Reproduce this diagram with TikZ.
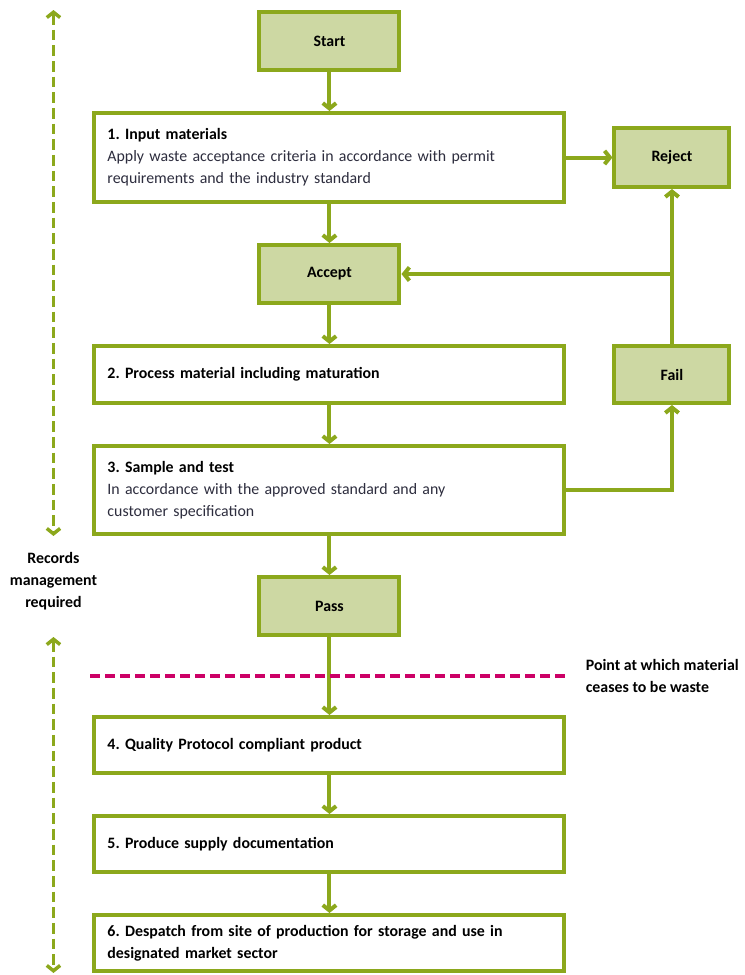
\documentclass[tikz,border=0pt]{standalone}
\usepackage{fontspec}
\setmainfont{Carlito}
\usepackage{xcolor}
\usepackage{tikz}
\usetikzlibrary{arrows.meta, positioning, calc}
\definecolor{eagreen}{RGB}{140,168,28}
\definecolor{eafill}{RGB}{205,216,163}
\definecolor{eapink}{RGB}{204,0,102}
\definecolor{eatext}{RGB}{45,45,62}
\newcommand{\flowfont}{\fontsize{11.9}{16.5}\selectfont\frenchspacing}
\tikzset{
  block/.style    = {rectangle, draw=eagreen, line width=3pt, fill=white,
                     minimum width=352.5pt, text width=333pt, align=left,
                     inner xsep=9.75pt, font=\flowfont, text=eatext},
  sblock/.style   = {rectangle, draw=eagreen, line width=3pt, fill=eafill,
                     minimum width=105pt, minimum height=43.5pt,
                     font=\flowfont\bfseries, text=black},
  arrow/.style    = {-{Straight Barb[length=4pt,width=10pt]}, draw=eagreen,
                     line width=3pt},
  recarrow/.style = {{Straight Barb[length=4pt,width=10pt]}-{Straight Barb[length=4pt,width=10pt]},
                     draw=eagreen, line width=2.6pt, dash pattern=on 8pt off 3.75pt},
  wasteline/.style = {draw=eapink, line width=3pt, dash pattern=on 7.5pt off 3.75pt},
}
\begin{document}
\begin{tikzpicture}[node distance=29.25pt and 34.5pt,
  note/.style={font=\flowfont\bfseries, text=black, align=center}]
  \useasboundingbox (-247.1pt,30.75pt) rectangle (311.6pt,-700.5pt);
  % main column
  \node[sblock] (start) {Start};
  \node[block, below=of start, minimum height=66.75pt] (input)
    {\textcolor{black}{\textbf{1. Input materials}}\\
     Apply waste acceptance criteria in accordance with permit\\
     requirements and the industry standard};
  \node[sblock, below=of input]  (accept) {Accept};
  \node[block, below=of accept, minimum height=42.75pt] (process)
    {\textcolor{black}{\textbf{2. Process material including maturation}}};
  \node[block, below=of process, minimum height=66pt] (sample)
    {\textcolor{black}{\textbf{3. Sample and test}}\\
     In accordance with the approved standard and any\\
     customer specification};
  \node[sblock, below=of sample] (pass) {Pass};
  \node[block, below=58.5pt of pass, minimum height=42pt] (product)
    {\textcolor{black}{\textbf{4. Quality Protocol compliant product}}};
  \node[block, below=of product, minimum height=42pt] (supply)
    {\textcolor{black}{\textbf{5. Produce supply documentation}}};
  \node[block, below=of supply, minimum height=42pt] (despatch)
    {\textcolor{black}{\textbf{6. Despatch from site of production for storage and use in\\
     designated market sector}}};
  % side boxes
  \node[sblock, right=of input, minimum width=86.25pt, minimum height=44.25pt] (reject) {Reject};
  \node[sblock, right=of process, minimum width=86.25pt, minimum height=42.75pt] (fail) {Fail};

  \draw[arrow] (start)   -- (input);
  \draw[arrow] (input)   -- (accept);
  \draw[arrow] (accept)  -- (process);
  \draw[arrow] (process) -- (sample);
  \draw[arrow] (sample)  -- (pass);
  \draw[arrow] (pass)    -- (product);
  \draw[arrow] (product) -- (supply);
  \draw[arrow] (supply)  -- (despatch);
  \draw[arrow] (input.east) -- (input.east -| reject.west);
  \draw[arrow] (fail.north) -- (reject.south);
  \draw[arrow] (fail.north |- accept.east) -- (accept.east);
  \draw[arrow] (sample.east) -| (fail.south);

  % end of waste status
  \coordinate (cease) at ($(pass.south)!0.5!(product.north)$);
  \coordinate (ceaseL) at ([xshift=-1.5pt]cease -| product.west);
  \coordinate (ceaseR) at (cease -| product.east);
  \draw[wasteline] (ceaseL) -- (ceaseR);
  \node[note, right=11pt of ceaseR, align=left] (ceaselabel)
    {Point at which material\\ceases to be waste};

  % records management
  \coordinate (recx) at ([xshift=-29.25pt]input.west);
  \draw[recarrow] (recx |- start.north) -- (recx |- sample.south);
  \draw[recarrow] (recx |- pass.south) -- (recx |- despatch.south);
  \node[note] (records) at ($(recx |- sample.south)!0.45!(recx |- pass.south)$)
    {Records\\management\\required};
\end{tikzpicture}
\end{document}
